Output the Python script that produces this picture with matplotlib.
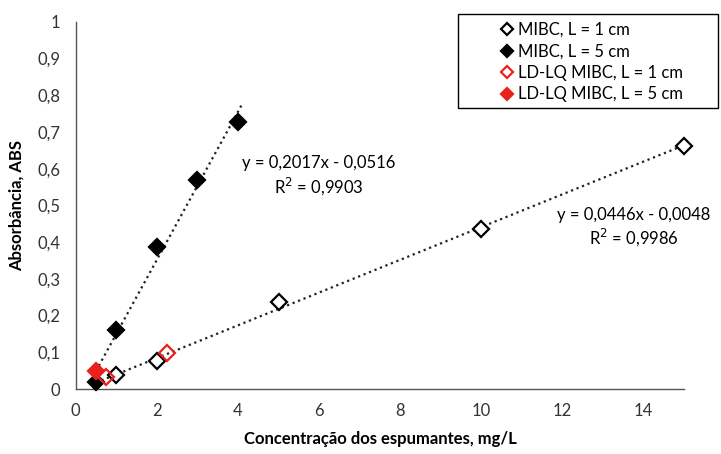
import matplotlib
matplotlib.use("Agg")
import matplotlib.pyplot as plt
from matplotlib.patches import Rectangle
import numpy as np

plt.rcParams['font.family'] = ['Lato', 'DejaVu Sans']

# dados
x_l1 = [1, 2, 5, 10, 15]
y_l1 = [0.038, 0.077, 0.237, 0.437, 0.662]
x_l5 = [0.5, 1, 2, 3, 4]
y_l5 = [0.019, 0.160, 0.387, 0.570, 0.727]
x_ldlq1 = [0.75, 2.25]
y_ldlq1 = [0.032, 0.097]
x_ldlq5 = [0.5]
y_ldlq5 = [0.050]

fit_l1 = (0.0446, -0.0048)
fit_l5 = (0.2017, -0.0516)
eq_l1 = "y = 0,0446x - 0,0048\nR$^2$ = 0,9986"
eq_l5 = "y = 0,2017x - 0,0516\nR$^2$ = 0,9903"

fig = plt.figure(figsize=(7.21, 4.54), dpi=100)
ax = fig.add_axes([0.105, 0.143, 0.844, 0.809])

# linhas de tendencia
xt1 = np.array([0.5, 15])
ax.plot(xt1, fit_l1[0] * xt1 + fit_l1[1], linestyle=':', color='#222222', linewidth=1.6, zorder=1)
xt5 = np.array([0.5, 4.1])
ax.plot(xt5, fit_l5[0] * xt5 + fit_l5[1], linestyle=':', color='#222222', linewidth=1.6, zorder=1)

ms = 8.5
red = '#e8211c'
ax.plot(x_l1, y_l1, 'D', ms=ms, mfc='white', mec='black', mew=1.6, label='MIBC, L = 1 cm', zorder=3, clip_on=False)
ax.plot(x_l5, y_l5, 'D', ms=ms, mfc='black', mec='black', mew=1.6, label='MIBC, L = 5 cm', zorder=3, clip_on=False)
ax.plot(x_ldlq1, y_ldlq1, 'D', ms=ms, mfc='none', mec=red, mew=1.6, label='LD-LQ MIBC, L = 1 cm', zorder=3, clip_on=False)
ax.plot(x_ldlq5, y_ldlq5, 'D', ms=ms, mfc=red, mec=red, mew=1.6, label='LD-LQ MIBC, L = 5 cm', zorder=3, clip_on=False)

ax.text(6.0, 0.58, eq_l5, ha='center', va='center', fontsize=12, linespacing=1.2)
ax.text(13.75, 0.44, eq_l1, ha='center', va='center', fontsize=12, linespacing=1.2)

ax.set_xlim(0, 15)
ax.set_ylim(0, 1)
ax.set_xticks(np.arange(0, 15, 2))
yt = np.round(np.arange(0, 1.01, 0.1), 1)
ax.set_yticks(yt)
ax.set_yticklabels([('%g' % v).replace('.', ',') for v in yt])
ax.tick_params(length=0, labelsize=12, colors='#333333')
ax.tick_params(axis='y', pad=11)
ax.tick_params(axis='x', pad=10)
for s in ['top', 'right']:
    ax.spines[s].set_visible(False)
for s in ['left', 'bottom']:
    ax.spines[s].set_color('#555555')
    ax.spines[s].set_linewidth(1.0)

ax.set_xlabel('Concentração dos espumantes, mg/L', fontsize=12, fontweight='bold', labelpad=9)
ax.set_ylabel('Absorbância, ABS', fontsize=12, fontweight='bold', labelpad=9)

# legenda com moldura desenhada a parte
leg = ax.legend(loc='upper left', bbox_to_anchor=(502 / 721, 1 - 22 / 454), bbox_transform=fig.transFigure,
                fontsize=12, markerscale=0.75, handlelength=0.6, handletextpad=0.35, borderpad=0,
                borderaxespad=0, labelspacing=0.33, frameon=False)
fig.patches.append(Rectangle((458 / 721, 1 - 108 / 454), 260 / 721, 94 / 454, transform=fig.transFigure,
                             fill=False, edgecolor='black', linewidth=1.0))

fig.savefig('out.png', dpi=100)
